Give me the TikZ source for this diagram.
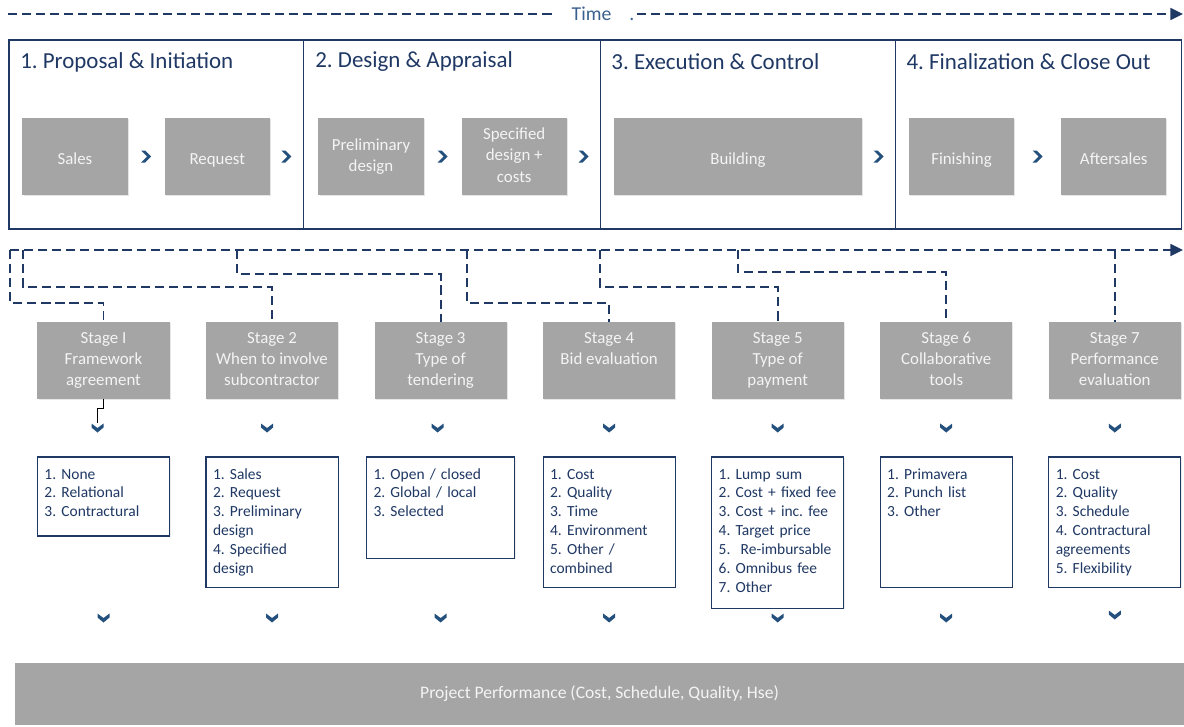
\documentclass[tikz,border=0pt]{standalone}
\usepackage{fontspec}
\setmainfont{Carlito}
\frenchspacing
\usetikzlibrary{arrows.meta,positioning,calc,shadows}

\definecolor{navy}{HTML}{1F3864}
\definecolor{chevblue}{HTML}{24507E}
\definecolor{timeblue}{HTML}{3A6090}
\definecolor{boxgrey}{HTML}{A5A5A5}
\definecolor{boxtext}{HTML}{F4F4F4}

% small chevrons (right / down) at a given point
\newcommand{\rchev}[1]{\fill[chevblue,shift={#1}] (-5,-6) -- (-1,-6) -- (5,0) -- (-1,6) -- (-5,6) -- (1,0) -- cycle;}
\newcommand{\dchev}[1]{\fill[chevblue,shift={#1}] (-6,-4.5) -- (0,0) -- (6,-4.5) -- (6,-0.5) -- (0,4.5) -- (-6,-0.5) -- cycle;}
\newcommand{\boxstrut}{\rule[-2pt]{0pt}{15pt}}

\begin{document}
\begin{tikzpicture}[
  x=0.025cm, y=-0.025cm,
  phase/.style={draw=navy,line width=0.8pt,fill=white,minimum height=4.725cm,inner sep=0pt,outer sep=0pt,
    drop shadow={shadow xshift=0.6pt,shadow yshift=-1pt,opacity=0.15}},
  ptitle/.style={text=navy,font=\fontsize{16.3}{19}\selectfont,inner sep=0pt},
  gbox/.style={fill=boxgrey,text=boxtext,minimum width=2.63cm,minimum height=1.925cm,align=center,outer sep=0pt,
    font=\fontsize{12}{15}\selectfont,execute at begin node=\boxstrut,execute at end node=\boxstrut,
    drop shadow={shadow xshift=0.8pt,shadow yshift=-0.8pt,opacity=0.2}},
  stagebox/.style={gbox,minimum width=3.3cm},
  listbox/.style={draw=navy,line width=0.8pt,fill=white,text=navy,align=left,text width=2.95cm,outer sep=0pt,
    inner xsep=0.175cm,inner ysep=0pt,text height=0.55cm,font=\fontsize{11}{13.4}\selectfont,
    drop shadow={shadow xshift=0.8pt,shadow yshift=-0.8pt,opacity=0.15}},
  bar/.style={fill=boxgrey,text=boxtext,minimum width=29.225cm,minimum height=1.55cm,inner sep=0pt,
    font=\fontsize{12.5}{15}\selectfont},
  tline/.style={draw=navy,line width=1.3pt,dash pattern=on 6.5pt off 3.5pt},
  ahead/.style={-{Triangle[length=9pt,width=8.5pt]}}
]
\useasboundingbox (0,0) rectangle (1184,726);

% time line
\node[text=timeblue,font=\fontsize{14}{16}\selectfont,inner sep=0pt] (time) at (603,14) {Time\hspace{0.45cm}.};
\coordinate (t0) at (8,14);
\coordinate (tl) at (553,14);
\coordinate (tr) at (637,14);
\coordinate (tend) at (1183,14);
\draw[tline] (t0) -- (tl);
\draw[tline,ahead] (tr) -- (tend);

% phases
\node[phase,minimum width=7.35cm,anchor=north west] (p1) at (9,40) {};
\node[phase,minimum width=7.425cm,right=0pt of p1] (p2) {};
\node[phase,minimum width=7.375cm,right=0pt of p2] (p3) {};
\node[phase,minimum width=7.15cm,right=0pt of p3] (p4) {};
\node[ptitle,anchor=west] (t1) at ($(p1.north west)+(11,22)$) {1. Proposal \& Initiation};
\node[ptitle,anchor=west] (t2) at ($(p2.north west)+(12,22)$) {2. Design \& Appraisal};
\node[ptitle,anchor=west] (t3) at ($(p3.north west)+(11,22)$) {3. Execution \& Control};
\node[ptitle,anchor=west] (t4) at ($(p4.north west)+(11,22)$) {4. Finalization \& Close Out};

\node[gbox] (sales) at (75,156.5) {Sales};
\node[gbox,right=0.925cm of sales] (request) {Request};
\node[gbox] (prelim) at (371,156.5) {Preliminary\\design};
\node[gbox,right=0.95cm of prelim] (spec) {Specified\\design +\\costs};
\node[gbox,minimum width=6.2cm] (build) at (738,156.5) {Building};
\node[gbox] (finish) at (961.5,156.5) {Finishing};
\node[gbox,right=1.175cm of finish] (after) {Aftersales};

\rchev{($(sales.east)!.5!(request.west)$)}
\rchev{($(request.east)!.5!(request.east -| p1.east)$)}
\rchev{($(prelim.east)!.5!(spec.west)$)}
\rchev{($(spec.east)!.5!(spec.east -| p2.east)$)}
\rchev{($(build.east)!.5!(build.east -| p3.east)$)}
\rchev{($(finish.east)!.5!(after.west)$)}

% stages
\node[stagebox] (s1) at (103.5,360.5) {Stage I\\Framework\\agreement};
\node[stagebox,right=0.9125cm of s1] (s2) {Stage 2\\When to involve\\subcontractor};
\node[stagebox,right=0.9125cm of s2] (s3) {Stage 3\\Type of\\tendering};
\node[stagebox,right=0.9125cm of s3] (s4) {Stage 4\\Bid evaluation\\\mbox{}};
\node[stagebox,right=0.9125cm of s4] (s5) {Stage 5\\Type of\\payment};
\node[stagebox,right=0.9125cm of s5] (s6) {Stage 6\\Collaborative\\tools};
\node[stagebox,right=0.9125cm of s6] (s7) {Stage 7\\Performance\\evaluation};

% dashed links from the time line
\coordinate (n0) at (10,250);
\coordinate (nend) at (1183,250);
\coordinate (n2) at (23,250);
\coordinate (n3) at (237,250);
\coordinate (n4) at (467,250);
\coordinate (n5) at (600,250);
\coordinate (n6) at (738,250);
\coordinate (n7) at (s7.north |- n0);
\draw[tline,ahead] (n0) -- (nend);
\draw[tline] (n0) -- ++(0,53) -| (s1.north);
\draw[tline] (n2) -- ++(0,37) -| (s2.north);
\draw[tline] (n3) -- ++(0,24) -| (s3.north);
\draw[tline] (n4) -- ++(0,53) -| (s4.north);
\draw[tline] (n5) -- ++(0,37) -| (s5.north);
\draw[tline] (n6) -- ++(0,22) -| (s6.north);
\draw[tline] (n7) -- (s7.north);

% options
\node[listbox,below=1.45cm of s1,text depth=1.425cm] (l1) {1. None\\2. Relational\\3. Contractural};
\node[listbox,below=1.45cm of s2,text depth=2.7cm] (l2) {1. Sales\\2. Request\\3. Preliminary\\design\\4. Specified\\design};
\node[listbox,below=1.45cm of s3,text depth=1.975cm,text width=3.35cm] (l3) {1. Open / closed\\2. Global / local\\3. Selected};
\node[listbox,below=1.45cm of s4,text depth=2.7cm] (l4) {1. Cost\\2. Quality\\3. Time\\4. Environment\\5. Other /\\combined};
\node[listbox,below=1.45cm of s5,text depth=3.225cm] (l5) {1. Lump sum\\2. Cost + fixed fee\\3. Cost + inc. fee\\4. Target price\\5.\ \ Re-imbursable\\6. Omnibus fee\\7. Other};
\node[listbox,below=1.45cm of s6,text depth=2.7cm] (l6) {1. Primavera\\2. Punch list\\3. Other};
\node[listbox,below=1.45cm of s7,text depth=2.7cm] (l7) {1. Cost\\2. Quality\\3. Schedule\\4. Contractural\\agreements\\5. Flexibility};

\coordinate (c1) at ($(s1.south)!.5!(l1.north)+(-6,-5)$);
\draw[line width=0.6pt] (s1.south) -- ++(0,9) -| (c1);
\dchev{($(s1.south)!.5!(l1.north)+(-6,0)$)}
\dchev{($(s2.south)!.5!(l2.north)+(-5,0)$)}
\dchev{($(s3.south)!.5!(l3.north)+(-3,0)$)}
\dchev{($(s4.south)!.5!(l4.north)$)}
\dchev{($(s5.south)!.5!(l5.north)$)}
\dchev{($(s6.south)!.5!(l6.north)$)}
\dchev{($(s7.south)!.5!(l7.north)$)}

\coordinate (low) at (0,618);
\coordinate (low7) at (0,615);
\foreach \n in {l1,l2,l3,l4,l5,l6} {\dchev{(\n.center |- low)}}
\dchev{(l7.center |- low7)}

% result
\node[bar] (perf) at (599.5,694) {Project Performance (Cost, Schedule, Quality, Hse)};
\end{tikzpicture}
\end{document}
